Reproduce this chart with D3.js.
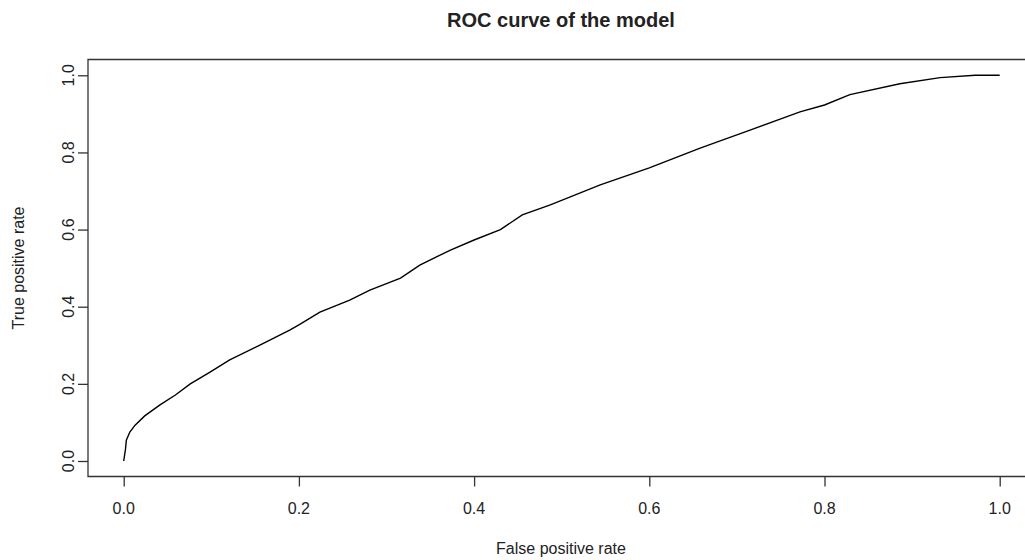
<!DOCTYPE html>
<html>
<head>
<meta charset="utf-8">
<title>ROC curve of the model</title>
<script src="https://cdn.jsdelivr.net/npm/d3@7"></script>
<style>
    html, body { margin: 0; padding: 0; background: #fff; overflow: hidden; }
    svg { display: block; }
    text { font-family: "Liberation Sans", Arial, sans-serif; fill: #222; }
    .chartTitle { font-weight: bold; font-size: 20px; }
    .tickLabel, .axisTitle { font-size: 16px; }
    .chartFrame { fill: none; stroke: #333; stroke-width: 1.3; }
    .tick line { stroke: #333; stroke-width: 1.3; }
    .rocLine { fill: none; stroke: #000; stroke-width: 1.4; }
</style>
</head>
<body>
<script>
//false positive rate values
var fprValues = [0, 0.002, 0.003, 0.007, 0.013, 0.024, 0.041, 0.059, 0.076, 0.099, 0.121,
    0.156, 0.19, 0.2, 0.224, 0.258, 0.281, 0.316, 0.338, 0.373, 0.4, 0.43, 0.455, 0.487,
    0.544, 0.6, 0.658, 0.715, 0.772, 0.8, 0.829, 0.886, 0.932, 0.972, 1];
//true positive rate values, same order
var tprValues = [0, 0.03, 0.054, 0.075, 0.093, 0.117, 0.145, 0.171, 0.2, 0.231, 0.262,
    0.301, 0.34, 0.353, 0.386, 0.417, 0.443, 0.474, 0.508, 0.547, 0.573, 0.6, 0.638, 0.664,
    0.716, 0.76, 0.811, 0.858, 0.905, 0.923, 0.95, 0.978, 0.994, 1, 1];
//tick values for both axes
var tickValues = [0, 0.2, 0.4, 0.6, 0.8, 1.0];

window.onload = setChart();

function setChart(){
    //svg dimensions and the plot box (right edge is cut off in the original)
    var width = 1025,
        height = 560,
        boxLeft = 88,
        boxRight = width,
        boxTop = 59.5,
        boxBottom = 476.5;

    var svg = d3.select("body")
        .append("svg")
        .attr("width", width)
        .attr("height", height);

    //scales, 4% padding inside the box
    var xScale = d3.scaleLinear()
        .domain([0, 1])
        .range([123.7, 999.7]);

    var yScale = d3.scaleLinear()
        .domain([0, 1])
        .range([461, 75.3]);

    //x axis ticks
    var xAxis = d3.axisBottom(xScale)
        .tickValues(tickValues)
        .tickSize(10)
        .tickFormat("");
    svg.append("g")
        .attr("transform", "translate(0," + boxBottom + ")")
        .call(xAxis)
        .call(function(g){ g.select(".domain").remove(); });

    svg.selectAll(".xLabel")
        .data(tickValues)
        .enter()
        .append("text")
        .attr("class", "tickLabel")
        .attr("text-anchor", "middle")
        .attr("x", function(d){ return xScale(d); })
        .attr("y", 514)
        .text(d3.format(".1f"));

    //y axis ticks
    var yAxis = d3.axisLeft(yScale)
        .tickValues(tickValues)
        .tickSize(10)
        .tickFormat("");
    svg.append("g")
        .attr("transform", "translate(" + boxLeft + ",0)")
        .call(yAxis)
        .call(function(g){ g.select(".domain").remove(); });

    //rotated y labels like R's default
    svg.selectAll(".yLabel")
        .data(tickValues)
        .enter()
        .append("text")
        .attr("class", "tickLabel")
        .attr("text-anchor", "middle")
        .attr("transform", function(d){
            return "translate(74," + yScale(d) + ") rotate(-90)";
        })
        .text(d3.format(".1f"));

    //roc curve
    var points = fprValues.map(function(d, i){ return [d, tprValues[i]]; });
    var line = d3.line()
        .x(function(d){ return xScale(d[0]); })
        .y(function(d){ return yScale(d[1]); });
    svg.append("path")
        .datum(points)
        .attr("class", "rocLine")
        .attr("d", line);

    //box around the plot: left, top and bottom sides only
    svg.append("path")
        .attr("class", "chartFrame")
        .attr("d", "M" + boxRight + "," + boxTop + "H" + boxLeft + "V" + boxBottom + "H" + boxRight);

    //titles
    svg.append("text")
        .attr("class", "chartTitle")
        .attr("text-anchor", "middle")
        .attr("x", 561)
        .attr("y", 27)
        .text("ROC curve of the model");

    svg.append("text")
        .attr("class", "axisTitle")
        .attr("text-anchor", "middle")
        .attr("x", 561)
        .attr("y", 554)
        .text("False positive rate");

    svg.append("text")
        .attr("class", "axisTitle")
        .attr("text-anchor", "middle")
        .attr("transform", "translate(24," + (boxTop + boxBottom) / 2 + ") rotate(-90)")
        .text("True positive rate");
}
</script>
</body>
</html>
